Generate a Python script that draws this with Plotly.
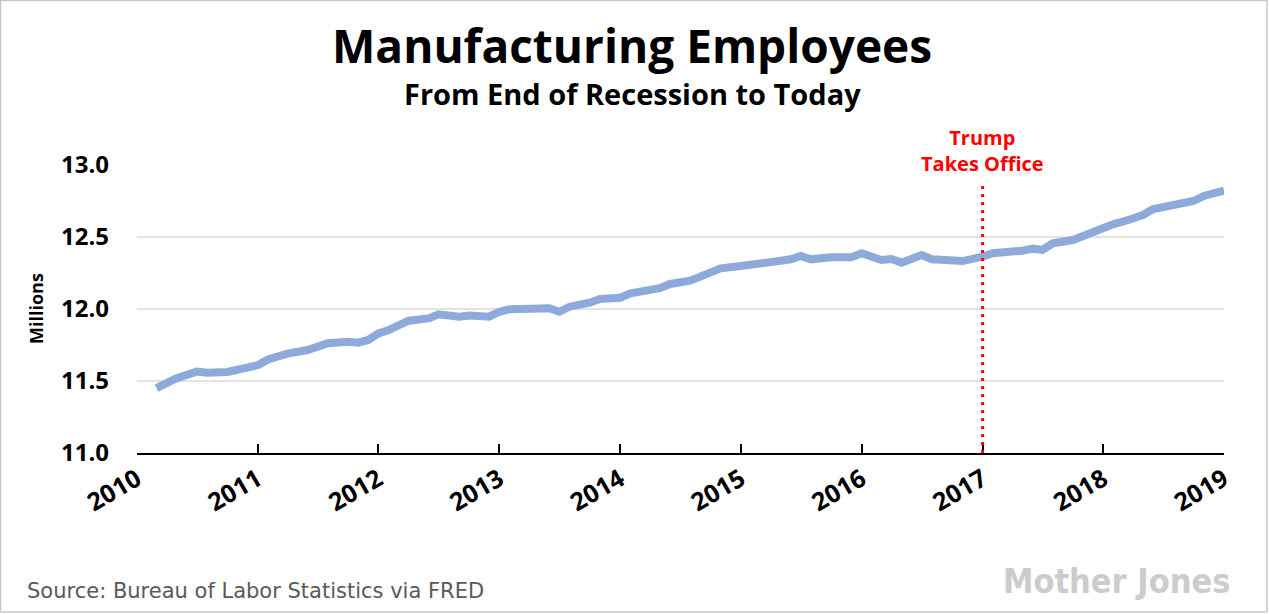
import plotly.graph_objects as go

dates = ["2010-03-01", "2010-05-01", "2010-07-01", "2010-08-01", "2010-10-01", "2010-11-01",
         "2011-01-01", "2011-02-01", "2011-04-01", "2011-06-01", "2011-07-01", "2011-08-01",
         "2011-10-01", "2011-11-01", "2011-12-01", "2012-01-01", "2012-02-01", "2012-03-01",
         "2012-04-01", "2012-06-01", "2012-07-01", "2012-09-01", "2012-10-01", "2012-12-01",
         "2013-01-01", "2013-02-01", "2013-04-01", "2013-06-01", "2013-07-01", "2013-08-01",
         "2013-10-01", "2013-11-01", "2014-01-01", "2014-02-01", "2014-05-01", "2014-06-01",
         "2014-08-01", "2014-09-01", "2014-11-01", "2015-01-01", "2015-04-01", "2015-05-01",
         "2015-06-01", "2015-07-01", "2015-08-01", "2015-10-01", "2015-12-01", "2016-01-01",
         "2016-03-01", "2016-04-01", "2016-05-01", "2016-07-01", "2016-08-01", "2016-09-01",
         "2016-11-01", "2017-01-01", "2017-02-01", "2017-05-01", "2017-06-01", "2017-07-01",
         "2017-08-01", "2017-10-01", "2017-12-01", "2018-01-01", "2018-02-01", "2018-03-01",
         "2018-05-01", "2018-06-01", "2018-07-01", "2018-08-01", "2018-10-01", "2018-11-01",
         "2018-12-01", "2019-01-01"]
employees = [11.45, 11.52, 11.565, 11.558, 11.563, 11.58,
             11.61, 11.65, 11.69, 11.715, 11.738, 11.762,
             11.773, 11.766, 11.785, 11.831, 11.854, 11.889,
             11.919, 11.935, 11.963, 11.947, 11.954, 11.947,
             11.981, 11.998, 11.998, 12.005, 11.981, 12.016,
             12.044, 12.069, 12.078, 12.109, 12.144, 12.174,
             12.197, 12.229, 12.282, 12.299, 12.317, 12.335,
             12.345, 12.368, 12.345, 12.359, 12.359, 12.387,
             12.340, 12.347, 12.322, 12.375, 12.345, 12.340,
             12.333, 12.363, 12.387, 12.405, 12.419, 12.410,
             12.456, 12.479, 12.537, 12.553, 12.590, 12.606,
             12.653, 12.694, 12.711, 12.720, 12.750, 12.785,
             12.810, 12.822]

x_ticks = ["2010-01-01", "2011-01-01", "2012-01-01", "2013-01-01", "2014-01-01",
           "2015-01-01", "2016-01-01", "2017-01-01", "2018-01-01", "2019-01-01"]
x_labels = ["2010", "2011", "2012", "2013", "2014", "2015", "2016", "2017", "2018", "2019"]
y_ticks = [11.0, 11.5, 12.0, 12.5, 13.0]
y_labels = ["11.0", "11.5", "12.0", "12.5", "13.0"]

inaug_date = "2017-01-01"
inaug_top = 12.855

W, H = 1269, 614
L, R, T, B = 137, 45, 165, 161
PW, PH = W - L - R, H - T - B

TITLE_FONT = "Open Sans"
LABEL_FONT = "Open Sans"

fig = go.Figure()
fig.add_trace(go.Scatter(
    x=dates, y=employees, mode="lines",
    line=dict(color="#8eaadb", width=8),
    hoverinfo="skip", showlegend=False,
))

fig.add_shape(type="line", xref="x", yref="y", x0=inaug_date, x1=inaug_date,
              y0=11.0, y1=inaug_top, line=dict(color="#ff0000", width=3, dash="3px,5px"))

# border around the whole image
fig.add_shape(type="rect", xref="paper", yref="paper",
              x0=(0.5 - L) / PW, x1=(1267 - L) / PW,
              y0=-(612 - (H - B)) / PH, y1=1 + (T - 0.5) / PH,
              line=dict(color="#c8c8c8", width=1.5), fillcolor="rgba(0,0,0,0)", layer="above")

annotations = [
    dict(text="<b>Manufacturing Employees</b>", xref="paper", yref="paper",
         x=(632 - L) / PW, y=1 + (T - 45) / PH, xanchor="center", yanchor="middle",
         showarrow=False, font=dict(family=TITLE_FONT, size=46, color="#000000")),
    dict(text="<b>From End of Recession to Today</b>", xref="paper", yref="paper",
         x=(632 - L) / PW, y=1 + (T - 93) / PH, xanchor="center", yanchor="middle",
         showarrow=False, font=dict(family=TITLE_FONT, size=29, color="#000000")),
    dict(text="<b>Trump<br>Takes Office</b>", xref="x", yref="paper",
         x=inaug_date, y=1 + (T - 150) / PH, xanchor="center", yanchor="middle",
         showarrow=False, bgcolor="#ffffff", borderpad=2,
         font=dict(family=TITLE_FONT, size=20, color="#ff0000")),
    dict(text="<b>Millions</b>", xref="paper", yref="paper",
         x=(36 - L) / PW, y=0.5, xanchor="center", yanchor="middle", textangle=-90,
         showarrow=False, font=dict(family=LABEL_FONT, size=18, color="#000000")),
    dict(text="Source: Bureau of Labor Statistics via FRED", xref="paper", yref="paper",
         x=(25 - L) / PW, y=-(591 - (H - B)) / PH, xanchor="left", yanchor="middle",
         showarrow=False, font=dict(family="DejaVu Sans", size=21, color="#595959")),
    dict(text="<b>Mother Jones</b>", xref="paper", yref="paper",
         x=(1233 - L) / PW, y=-(581 - (H - B)) / PH, xanchor="right", yanchor="middle",
         showarrow=False,
         font=dict(family="DejaVu Sans Condensed", size=34, color="#cccccc")),
]

fig.update_layout(
    width=W, height=H,
    margin=dict(l=L, r=R, t=T, b=B, pad=0),
    paper_bgcolor="#ffffff", plot_bgcolor="#ffffff",
    annotations=annotations,
    xaxis=dict(
        type="date", range=["2010-01-01", "2019-01-01"],
        tickvals=x_ticks, ticktext=x_labels, tickangle=-30,
        showgrid=False, zeroline=False,
        showline=True, linecolor="#000000", linewidth=2,
        ticks="inside", ticklen=9, tickwidth=1.5, tickcolor="#000000",
        tickfont=dict(family=LABEL_FONT, size=25, color="#000000", weight="bold"),
    ),
    yaxis=dict(
        range=[11.0, 13.0], tickvals=y_ticks, ticktext=y_labels,
        showgrid=True, gridcolor="#e3e3e3", gridwidth=1.5,
        zeroline=False, showline=False, ticks="",
        ticklabelstandoff=27,
        tickfont=dict(family=LABEL_FONT, size=24, color="#000000", weight="bold"),
    ),
)

fig.write_html("out.html", post_script="document.body.style.margin='0';",
               config={"displayModeBar": False})
